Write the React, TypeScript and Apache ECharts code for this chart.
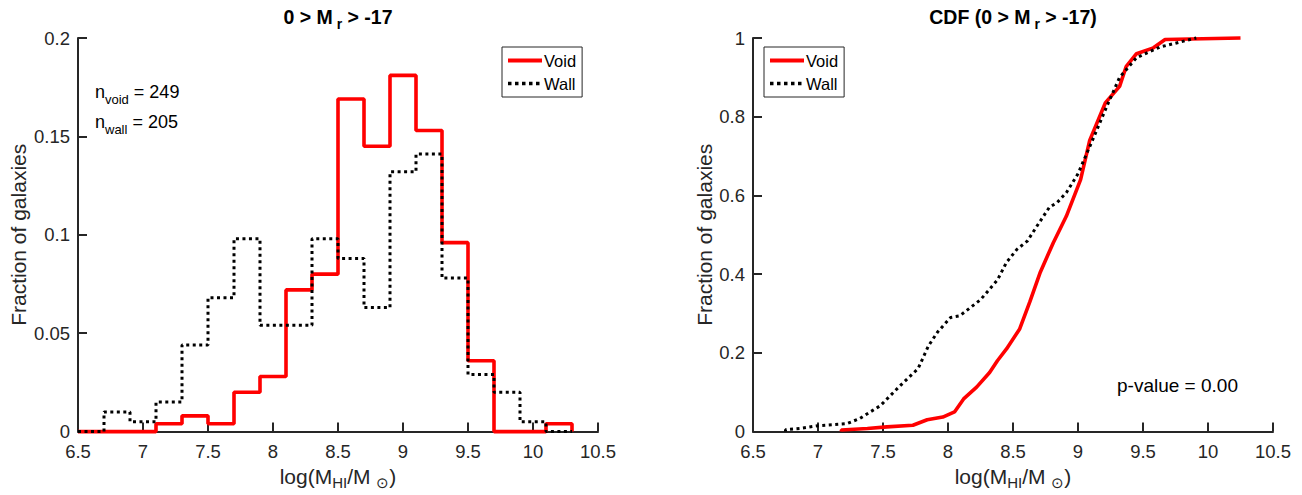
import React, { useEffect, useRef } from 'react';
import * as echarts from 'echarts';

// Histogram bin edges (log M_HI) and fractions per bin
const binEdges = [6.5, 6.7, 6.9, 7.1, 7.3, 7.5, 7.7, 7.9, 8.1, 8.3, 8.5, 8.7, 8.9, 9.1, 9.3, 9.5, 9.7, 9.9, 10.1, 10.3];
const voidFrac = [0, 0, 0, 0.004, 0.008, 0.004, 0.020, 0.028, 0.072, 0.080, 0.169, 0.145, 0.181, 0.153, 0.096, 0.036, 0, 0, 0.004];
const wallFrac = [0, 0.010, 0.005, 0.015, 0.044, 0.068, 0.098, 0.054, 0.054, 0.098, 0.088, 0.063, 0.132, 0.141, 0.078, 0.029, 0.020, 0.005, 0];

// CDF curves
const voidCdfX = [7.18, 7.18, 7.38, 7.53, 7.73, 7.84, 7.96, 8.05, 8.12, 8.22, 8.32, 8.38, 8.45, 8.55, 8.63, 8.71, 8.81, 8.91, 9.02, 9.09, 9.21, 9.32, 9.37, 9.45, 9.58, 9.67, 10.25];
const voidCdfY = [0, 0.004, 0.008, 0.012, 0.016, 0.030, 0.037, 0.050, 0.083, 0.113, 0.150, 0.180, 0.210, 0.260, 0.330, 0.405, 0.480, 0.547, 0.640, 0.740, 0.835, 0.877, 0.927, 0.960, 0.975, 0.996, 1.0];
const wallCdfX = [6.75, 6.75, 6.86, 7.0, 7.22, 7.32, 7.48, 7.63, 7.77, 7.85, 7.92, 8.02, 8.09, 8.25, 8.38, 8.45, 8.53, 8.61, 8.68, 8.78, 8.84, 8.91, 9.0, 9.09, 9.22, 9.32, 9.45, 9.63, 9.91];
const wallCdfY = [0, 0.005, 0.008, 0.015, 0.020, 0.033, 0.066, 0.116, 0.160, 0.218, 0.253, 0.290, 0.294, 0.335, 0.385, 0.430, 0.463, 0.484, 0.520, 0.570, 0.582, 0.607, 0.655, 0.724, 0.825, 0.900, 0.950, 0.977, 1.0];

const seriesNames = ['Void', 'Wall'];
const nVoid = 249;
const nWall = 205;
const pValue = '0.00';

const FONT = '"Liberation Sans", Arial, Helvetica, sans-serif';
const AX = '#262626';

function stairs(edges: number[], vals: number[]) {
  const pts: number[][] = vals.map((v, i) => [edges[i], v]);
  pts.push([edges[edges.length - 1], 0]);
  return pts;
}

function zip(xs: number[], ys: number[]) {
  return xs.map((x, i) => [x, ys[i]]);
}

const subRich = (size: number, bold = false, color = AX) => ({
  n: { fontSize: size, fontFamily: FONT, fontWeight: bold ? 'bold' : 'normal', color, lineHeight: 28, verticalAlign: 'middle' },
  s: { fontSize: Math.round(size * 0.72), fontFamily: FONT, fontWeight: bold ? 'bold' : 'normal', color, lineHeight: 10, verticalAlign: 'bottom' },
});

export default function App() {
  const ref = useRef<HTMLDivElement>(null);
  useEffect(() => {
    if (!ref.current) return;
    const chart = echarts.init(ref.current, undefined, { renderer: 'svg' });

    const voidStyle = { color: '#ff0000', width: 3.6, type: 'solid' };
    const wallStyle = { color: '#000000', width: 3, type: [3, 3.5], cap: 'butt' };

    const xAxisBase = (gridIndex: number) => ({
      type: 'value',
      gridIndex,
      min: 6.5,
      max: 10.5,
      interval: 0.5,
      axisLine: { show: true, lineStyle: { color: AX, width: 2 } },
      axisTick: { show: true, inside: true, length: 9, lineStyle: { color: AX, width: 2 } },
      axisLabel: { color: AX, fontSize: 18.5, fontFamily: FONT, margin: 10 },
      splitLine: { show: false },
      name: '{n|log(M}{s|HI}{n|/M }{s|\u2299}{n|)}',
      nameLocation: 'middle',
      nameGap: 23,
      nameTextStyle: { rich: subRich(21) },
    });

    const yAxisBase = (gridIndex: number, max: number, interval: number, nameGap: number) => ({
      type: 'value',
      gridIndex,
      min: 0,
      max,
      interval,
      axisLine: { show: true, lineStyle: { color: AX, width: 2 } },
      axisTick: { show: true, inside: true, length: 9, lineStyle: { color: AX, width: 2 } },
      axisLabel: { color: AX, fontSize: 18.5, fontFamily: FONT, margin: 8 },
      splitLine: { show: false },
      name: 'Fraction of galaxies',
      nameLocation: 'middle',
      nameRotate: 90,
      nameGap,
      nameTextStyle: { color: AX, fontSize: 21, fontFamily: FONT },
    });

    const legendBase = (left: number) => ({
      data: [
        { name: seriesNames[0], lineStyle: { width: 4, color: '#ff0000', type: 'solid' } },
        { name: seriesNames[1], lineStyle: { width: 3.5, color: '#000000', type: [3.5, 3.5], cap: 'butt' } },
      ],
      orient: 'vertical',
      left,
      top: 47,
      padding: [5, 6, 5, 4],
      itemGap: 6,
      itemWidth: 34,
      itemHeight: 14,
      borderColor: AX,
      borderWidth: 1,
      backgroundColor: '#fff',
      selectedMode: false,
      itemStyle: { opacity: 0 },
      textStyle: { color: '#000', fontSize: 16.5, fontFamily: FONT, padding: [0, 0, 0, -3] },
    });

    const option: any = {
      animation: false,
      backgroundColor: '#ffffff',
      textStyle: { fontFamily: FONT },
      grid: [
        { left: 78, top: 38, width: 520, height: 395 },
        { left: 753, top: 38, width: 520, height: 395 },
      ],
      xAxis: [xAxisBase(0), xAxisBase(1)],
      yAxis: [yAxisBase(0, 0.2, 0.05, 49), yAxisBase(1, 1, 0.2, 37)],
      legend: [legendBase(502), legendBase(764)],
      series: [
        {
          name: seriesNames[0], type: 'line', xAxisIndex: 0, yAxisIndex: 0, step: 'end',
          data: stairs(binEdges, voidFrac), showSymbol: false, symbol: 'none', clip: false,
          lineStyle: voidStyle, itemStyle: { color: '#ff0000' }, z: 3,
        },
        {
          name: seriesNames[1], type: 'line', xAxisIndex: 0, yAxisIndex: 0, step: 'end',
          data: stairs(binEdges, wallFrac), showSymbol: false, symbol: 'none', clip: false,
          lineStyle: wallStyle, itemStyle: { color: '#000000' }, z: 4,
        },
        {
          name: seriesNames[0], type: 'line', xAxisIndex: 1, yAxisIndex: 1,
          data: zip(voidCdfX, voidCdfY), showSymbol: false, symbol: 'none', clip: false,
          lineStyle: voidStyle, itemStyle: { color: '#ff0000' }, z: 3,
        },
        {
          name: seriesNames[1], type: 'line', xAxisIndex: 1, yAxisIndex: 1,
          data: zip(wallCdfX, wallCdfY), showSymbol: false, symbol: 'none', clip: false,
          lineStyle: wallStyle, itemStyle: { color: '#000000' }, z: 4,
        },
      ],
      graphic: [
        {
          type: 'text', x: 338, y: 17,
          style: { text: '{n|0 > M}{s| r}{n| > -17}', rich: subRich(19.5, true, '#000'), align: 'center', verticalAlign: 'middle' },
        },
        {
          type: 'text', x: 1013, y: 17,
          style: { text: '{n|CDF (0 > M}{s| r}{n| > -17)}', rich: subRich(19.5, true, '#000'), align: 'center', verticalAlign: 'middle' },
        },
        {
          type: 'text', x: 95, y: 92,
          style: { text: `{n|n}{s|void}{n| = ${nVoid}}`, rich: subRich(18, false, '#000'), align: 'left', verticalAlign: 'middle' },
        },
        {
          type: 'text', x: 95, y: 122,
          style: { text: `{n|n}{s|wall}{n| = ${nWall}}`, rich: subRich(18, false, '#000'), align: 'left', verticalAlign: 'middle' },
        },
        {
          type: 'text', x: 1117, y: 385,
          style: { text: `p-value = ${pValue}`, fontSize: 19, fontFamily: FONT, fill: '#000', align: 'left', verticalAlign: 'middle' },
        },
      ],
    };

    chart.setOption(option);
    return () => chart.dispose();
  }, []);

  return <div ref={ref} style={{ position: 'absolute', left: 0, top: 0, width: 1302, height: 495, background: '#fff' }} />;
}
